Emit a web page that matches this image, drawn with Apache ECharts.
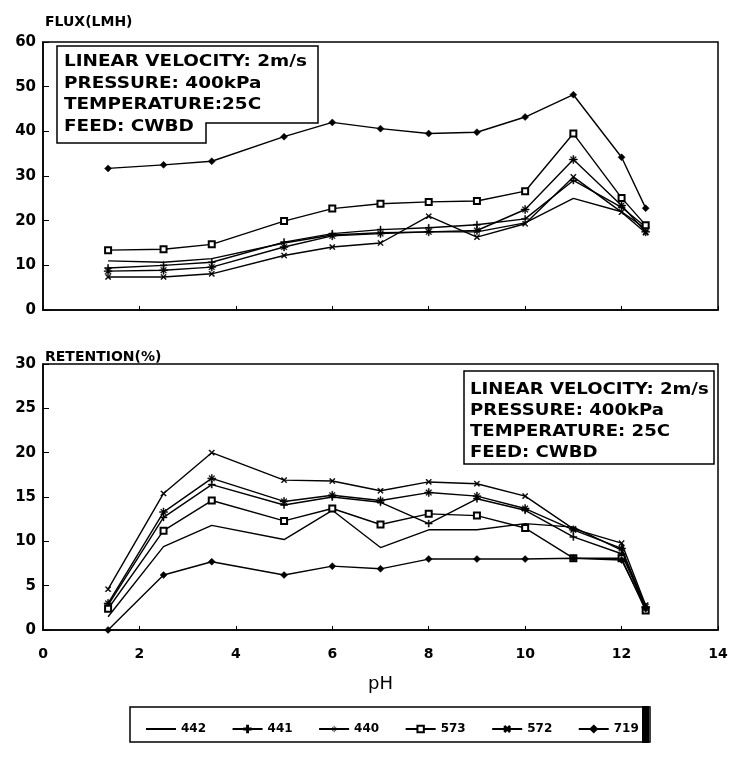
<!DOCTYPE html>
<html>
<head>
<meta charset="utf-8">
<script src="https://cdn.jsdelivr.net/npm/echarts@6/dist/echarts.min.js"></script>
<style>
  html, body { margin: 0; padding: 0; background: #fff; }
  #chart { width: 731px; height: 759px; }
</style>
</head>
<body>
<div id="chart"></div>
<script>
// pH values shared by both panels
const phValues = [1.35, 2.5, 3.5, 5, 6, 7, 8, 9, 10, 11, 12, 12.5]

// flux (LMH)
const flux442 = [11.0, 10.7, 11.5, 15.0, 16.8, 17.3, 17.5, 17.5, 19.5, 25.0, 22.0, 18.2]
const flux441 = [9.4, 10.0, 10.7, 15.2, 17.1, 18.0, 18.4, 19.1, 20.4, 29.0, 23.0, 18.6]
const flux440 = [8.7, 8.9, 9.6, 14.1, 16.6, 17.1, 17.5, 17.8, 22.5, 33.7, 23.4, 17.5]
const flux573 = [13.4, 13.6, 14.7, 19.9, 22.7, 23.8, 24.2, 24.4, 26.6, 39.5, 25.1, 19.0]
const flux572 = [7.4, 7.4, 8.1, 12.2, 14.1, 15.0, 21.0, 16.3, 19.3, 29.8, 21.9, 17.3]
const flux719 = [31.7, 32.5, 33.3, 38.8, 42.0, 40.6, 39.5, 39.8, 43.2, 48.2, 34.2, 22.8]

// retention (%)
const ret442 = [1.5, 9.4, 11.8, 10.2, 13.5, 9.3, 11.3, 11.3, 12.0, 11.6, 9.0, 2.4]
const ret441 = [2.8, 12.7, 16.4, 14.1, 15.0, 14.4, 12.0, 14.8, 13.5, 10.5, 8.6, 2.5]
const ret440 = [3.0, 13.3, 17.1, 14.5, 15.2, 14.6, 15.5, 15.1, 13.7, 11.3, 9.2, 2.6]
const ret573 = [2.4, 11.2, 14.6, 12.3, 13.7, 11.9, 13.1, 12.9, 11.5, 8.1, 8.1, 2.2]
const ret572 = [4.6, 15.4, 20.0, 16.9, 16.8, 15.7, 16.7, 16.5, 15.1, 11.4, 9.8, 2.8]
const ret719 = [0, 6.2, 7.7, 6.2, 7.2, 6.9, 8.0, 8.0, 8.0, 8.1, 7.9, 2.4]

const seriesNames = ['442', '441', '440', '573', '572', '719']
const xTicks = [0, 2, 4, 6, 8, 10, 12, 14]
const fluxTicks = [0, 10, 20, 30, 40, 50, 60]
const retTicks = [0, 5, 10, 15, 20, 25, 30]

const FONT = 'DejaVu Sans'

// marker shapes for each membrane
const plusPath = 'path://M4.3,0H5.7V4.3H10V5.7H5.7V10H4.3V5.7H0V4.3H4.3Z'
const starPath = 'path://M4.4,0H5.6V4.4H10V5.6H5.6V10H4.4V5.6H0V4.4H4.4Z M1.3,2L2,1.3L8.7,8L8,8.7Z M8,1.3L8.7,2L2,8.7L1.3,8Z'
const markers = {
  '442': { symbol: 'none', size: 0, rotate: 0 },
  '441': { symbol: plusPath, size: 7, rotate: 0 },
  '440': { symbol: starPath, size: 8, rotate: 0 },
  '573': { symbol: 'emptyRect', size: 6, rotate: 0 },
  '572': { symbol: plusPath, size: 7, rotate: 45 },
  '719': { symbol: 'diamond', size: 7, rotate: 0 }
}

const fluxData = [flux442, flux441, flux440, flux573, flux572, flux719]
const retData = [ret442, ret441, ret440, ret573, ret572, ret719]

let makeSeries = (name, values, idx) => {
  let m = markers[name]
  return {
    name: name,
    type: 'line',
    xAxisIndex: idx,
    yAxisIndex: idx,
    data: phValues.map((p, i) => [p, values[i]]),
    symbol: m.symbol,
    symbolSize: m.size,
    symbolRotate: m.rotate,
    showSymbol: m.symbol !== 'none',
    lineStyle: { color: '#000', width: 1.4 },
    itemStyle: { color: '#000', borderColor: '#000', borderWidth: m.symbol === 'emptyRect' ? 1.3 : 0.5 }
  }
}

let series = []
seriesNames.forEach((n, i) => series.push(makeSeries(n, fluxData[i], 0)))
seriesNames.forEach((n, i) => series.push(makeSeries(n, retData[i], 1)))

let axisText = { color: '#000', fontFamily: FONT, fontWeight: 'bold', fontSize: 15 }

// legend entries: plain line for 442, thin-edged star for 440
let legendData = seriesNames.map(n => {
  if (n === '442') return { name: n, itemStyle: { opacity: 0 } }
  if (n === '440') return { name: n, itemStyle: { borderWidth: 0 } }
  return { name: n }
})

let mychart = echarts.init(document.getElementById('chart'))
let option = {
  animation: false,
  backgroundColor: '#fff',
  title: [
    { text: 'FLUX(LMH)', left: 40, top: 10, textStyle: { color: '#000', fontFamily: FONT, fontWeight: 'bold', fontSize: 14 } },
    { text: 'RETENTION(%)', left: 40, top: 345, textStyle: { color: '#000', fontFamily: FONT, fontWeight: 'bold', fontSize: 14 } }
  ],
  grid: [
    { left: 43, top: 42, width: 675, height: 268, show: true, borderColor: '#000', borderWidth: 1.5 },
    { left: 43, top: 364, width: 675, height: 266, show: true, borderColor: '#000', borderWidth: 1.5 }
  ],
  xAxis: [
    {
      type: 'value', gridIndex: 0, min: xTicks[0], max: xTicks[xTicks.length - 1], interval: 2,
      axisLine: { lineStyle: { color: '#000', width: 1.5 } },
      axisTick: { inside: true, length: 4, lineStyle: { color: '#000' } },
      axisLabel: { show: false },
      splitLine: { show: false }
    },
    {
      type: 'value', gridIndex: 1, min: xTicks[0], max: xTicks[xTicks.length - 1], interval: 2,
      name: 'pH', nameLocation: 'middle', nameGap: 45,
      nameTextStyle: { color: '#000', fontFamily: FONT, fontSize: 18 },
      axisLine: { lineStyle: { color: '#000', width: 1.5 } },
      axisTick: { inside: true, length: 4, lineStyle: { color: '#000' } },
      axisLabel: Object.assign({}, axisText, { margin: 17, fontSize: 14 }),
      splitLine: { show: false }
    }
  ],
  yAxis: [
    {
      type: 'value', gridIndex: 0, min: fluxTicks[0], max: fluxTicks[fluxTicks.length - 1], interval: 10,
      axisLine: { lineStyle: { color: '#000', width: 1.5 } },
      axisTick: { inside: true, length: 6, lineStyle: { color: '#000' } },
      axisLabel: Object.assign({ margin: 7 }, axisText),
      splitLine: { show: false }
    },
    {
      type: 'value', gridIndex: 1, min: retTicks[0], max: retTicks[retTicks.length - 1], interval: 5,
      axisLine: { lineStyle: { color: '#000', width: 1.5 } },
      axisTick: { inside: true, length: 6, lineStyle: { color: '#000' } },
      axisLabel: Object.assign({ margin: 7 }, axisText),
      splitLine: { show: false }
    }
  ],
  legend: {
    data: legendData,
    left: 140,
    top: 718,
    itemWidth: 30,
    itemHeight: 8,
    itemGap: 25.5,
    textStyle: { color: '#000', fontFamily: FONT, fontWeight: 'bold', fontSize: 12 }
  },
  graphic: [
    // top panel conditions box (notched at lower right)
    {
      type: 'polygon',
      shape: { points: [[57, 46], [318, 46], [318, 123], [206, 123], [206, 143], [57, 143]] },
      style: { fill: '#fff', stroke: '#000', lineWidth: 1.5 },
      z: 10
    },
    {
      type: 'text', x: 64, y: 51, scaleX: 1.15, z: 11,
      style: {
        text: 'LINEAR VELOCITY: 2m/s\nPRESSURE: 400kPa\nTEMPERATURE:25C\nFEED: CWBD',
        font: 'bold 16px "DejaVu Sans"', fill: '#000', lineHeight: 21.7, verticalAlign: 'top'
      }
    },
    // bottom panel conditions box
    {
      type: 'rect',
      shape: { x: 464, y: 371, width: 250, height: 93 },
      style: { fill: '#fff', stroke: '#000', lineWidth: 1.5 },
      z: 10
    },
    {
      type: 'text', x: 470, y: 379, scaleX: 1.13, z: 11,
      style: {
        text: 'LINEAR VELOCITY: 2m/s\nPRESSURE: 400kPa\nTEMPERATURE: 25C\nFEED: CWBD',
        font: 'bold 16px "DejaVu Sans"', fill: '#000', lineHeight: 21, verticalAlign: 'top'
      }
    },
    // legend frame
    {
      type: 'rect',
      shape: { x: 130, y: 707, width: 520, height: 35 },
      style: { fill: 'none', stroke: '#000', lineWidth: 1.5 }
    },
    {
      type: 'rect',
      shape: { x: 642, y: 706, width: 7, height: 37 },
      style: { fill: '#000' }
    }
  ],
  series: series
}
mychart.setOption(option)
</script>
</body>
</html>
